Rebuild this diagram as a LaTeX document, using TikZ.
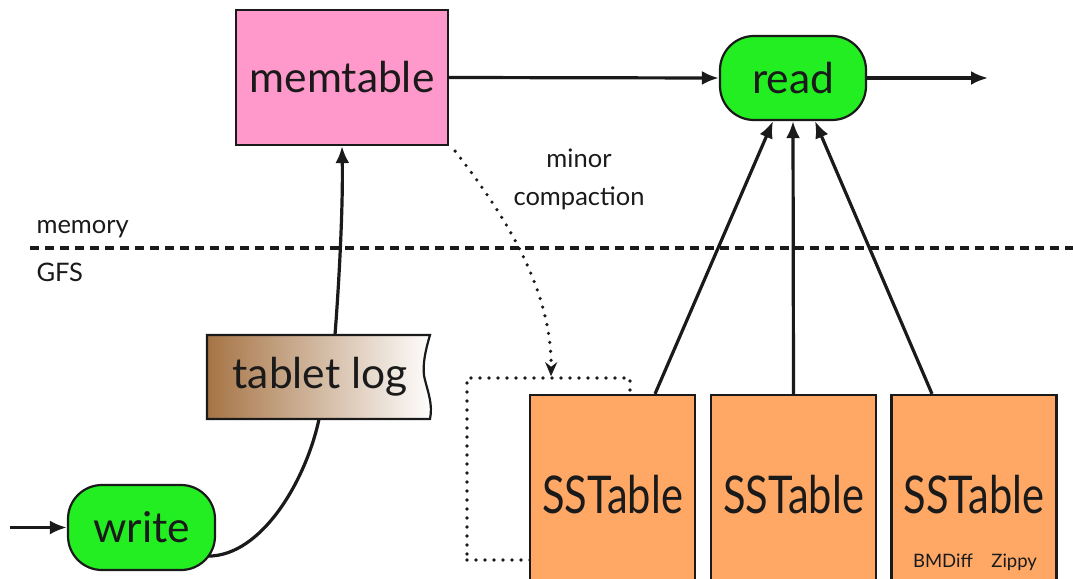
\documentclass[tikz,border=0pt]{standalone}
\usepackage{fontspec}
\setmainfont{Lato}
\usetikzlibrary{arrows.meta,calc}
\definecolor{pinkfill}{HTML}{FF99CC}
\definecolor{greenfill}{HTML}{22EE22}
\definecolor{orangefill}{HTML}{FFA866}
\definecolor{brownshade}{HTML}{A67445}
\definecolor{ink}{HTML}{1A1A1A}
\tikzset{
  box/.style={draw=ink, line width=2.2pt, text=ink, inner sep=0pt},
  pill/.style={box, fill=greenfill, rounded corners=34pt},
  sstab/.style={box, fill=orangefill, minimum width=165pt, minimum height=200pt},
  arr/.style={draw=ink, line width=3.2pt, -{Latex[length=17pt,width=14pt]}},
  dots/.style={draw=ink, line width=3.6pt, dash pattern=on 0pt off 9pt, line cap=round},
  small/.style={font=\fontsize{25.5}{38}\selectfont, text=ink},
}
\begin{document}
\begin{tikzpicture}[x=1pt, y=-1pt, font=\fontsize{42.5}{50}\selectfont]
\clip (0,0) rectangle (1073,578);
\fill[white] (0,0) rectangle (1073,578);
% memory / GFS divider
\coordinate (divL) at (30,248);
\coordinate (divR) at (1073,248);
\draw[ink, line width=3.2pt, dash pattern=on 9pt off 6pt] (divL) -- (divR);
\node[small, anchor=west] (memlbl) at (33,229) {memory};
\node[small, anchor=west] (gfslbl) at (33,272) {GFS};
\node[small, align=center] (minlbl) at (579,179) {minor\\compaction};
% dotted compaction frame
\node[dots, minimum width=163pt, minimum height=182pt, inner sep=0pt] (cmp) at (548.5,469) {};
% nodes
\node[box, fill=pinkfill, minimum width=212pt, minimum height=135pt] (mem) at (342,77.5) {memtable};
\node[pill, minimum width=146pt, minimum height=84pt] (rd) at (793,78) {read};
\node[pill, minimum width=147pt, minimum height=85pt] (wr) at (141.5,527.5) {write};
\node[sstab] (ss1) at (612.5,495) {\scalebox{0.8}[1]{\fontsize{52}{60}\selectfont SSTable}};
\node[sstab] (ss2) at (793.5,495) {\scalebox{0.8}[1]{\fontsize{52}{60}\selectfont SSTable}};
\node[sstab] (ss3) at (974,495) {\scalebox{0.8}[1]{\fontsize{52}{60}\selectfont SSTable}};
\node[text=ink, font=\fontsize{18.5}{22}\selectfont] (bz) at (975,562) {BMDiff\quad Zippy};
% tablet log
\shadedraw[left color=brownshade, right color=white, draw=ink, line width=2.2pt]
  (207,335) -- (430,335) .. controls (424,355) and (422,370) .. (425,380)
  .. controls (428,392) and (433,405) .. (430,419) -- (207,419) -- cycle;
\node[text=ink, minimum width=223pt, minimum height=84pt, inner sep=0pt] (tl) at (320,377) {tablet log};
% free ends
\coordinate (in) at (10,527.5);
\coordinate (out) at (988,78);
% connectors
\draw[arr] (in) -- (wr.west);
\draw[ink, line width=3.2pt] ($(wr.south east)+(-8,-15)$) .. controls (262,556) and (306,480) .. ([xshift=-1pt]tl.south);
\draw[arr] ([xshift=15pt]tl.north) .. controls (340,270) and (343,200) .. (mem.south);
\draw[arr] (mem.east) -- (rd.west);
\draw[arr] (rd.east) -- (out);
\draw[arr] ([xshift=42.5pt]ss1.north) -- ([xshift=-20pt]rd.south);
\draw[arr] (ss2.north) -- (rd.south);
\draw[arr] ([xshift=-42pt]ss3.north) -- ([xshift=22pt]rd.south);
\draw[dots, -{Stealth[length=14pt,width=12pt]}] ([shift={(6pt,-5pt)}]mem.south east) .. controls (505,215) and (552,290) .. ([xshift=2.5pt]cmp.north);
\end{tikzpicture}
\end{document}
